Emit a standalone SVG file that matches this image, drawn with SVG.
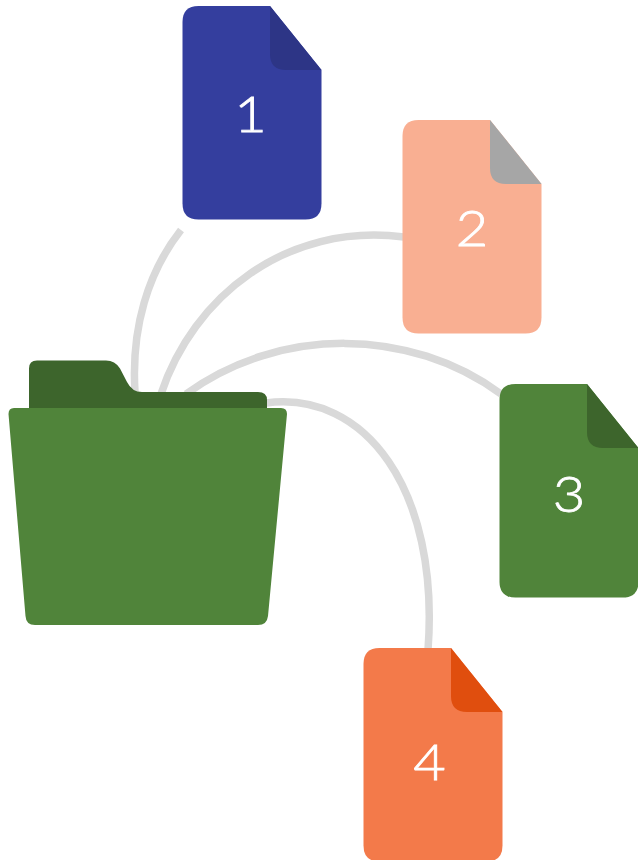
<svg xmlns="http://www.w3.org/2000/svg" width="638" height="860" viewBox="0 0 638 860">
<style>
.conn{fill:none;stroke:#d9d9d9;stroke-width:7.500}
.num{font-family:"Lato","Liberation Sans",sans-serif;font-weight:300;font-size:50px;fill:#fff;stroke:#fff;stroke-width:.8;text-anchor:middle}
</style>
<defs>
<path id="sheet" d="M16 0H87.500L139 64V197.500Q139 213.500 123 213.500H16Q0 213.500 0 197.500V16Q0 0 16 0Z"/>
<path id="fold" d="M87.500 0L139 64H103.500Q87.500 64 87.500 48Z"/>
</defs>
<rect width="638" height="860" fill="#fff"/>
<g id="connectors">
<path class="conn" d="M181 230C148 272 131 328 135 392"/>
<path class="conn" d="M161 394C193 297 286 222 404 237"/>
<path class="conn" d="M186 394C280 326 410 327 501 394"/>
<path class="conn" d="M266 403C365 390 440 490 428 650"/>
</g>
<g id="folder">
<path fill="#3d652c" d="M29 408V368.500Q29 360.500 37 360.500H106Q115 360.500 120 368.500L127 382Q132 392 142 392H258Q267 392 267 400V410H30Z"/>
<path fill="#50843a" d="M14 408H281Q287 408 287 414L268 616Q267 625 258 625H35Q26 625 25.500 616L8.500 414Q8.500 408 14 408Z"/>
</g>
<g id="doc1" transform="translate(182.500 6)">
<use href="#sheet" fill="#343e9e"/><use href="#fold" fill="#2d3586"/>
<text class="num" x="68" y="126" textLength="32.500" lengthAdjust="spacingAndGlyphs">1</text>
</g>
<g id="doc2" transform="translate(402.500 120)">
<use href="#sheet" fill="#f9af92"/><use href="#fold" fill="#a6a6a6"/>
<text class="num" x="69.500" y="126" textLength="32.500" lengthAdjust="spacingAndGlyphs">2</text>
</g>
<g id="doc3" transform="translate(499.500 384)">
<use href="#sheet" fill="#50843a"/><use href="#fold" fill="#3d652c"/>
<text class="num" x="69.500" y="128" textLength="32.500" lengthAdjust="spacingAndGlyphs">3</text>
</g>
<g id="doc4" transform="translate(363.500 648)">
<use href="#sheet" fill="#f37a4a"/><use href="#fold" fill="#e04e0e"/>
<text class="num" x="66" y="132" textLength="32.500" lengthAdjust="spacingAndGlyphs">4</text>
</g>
</svg>
